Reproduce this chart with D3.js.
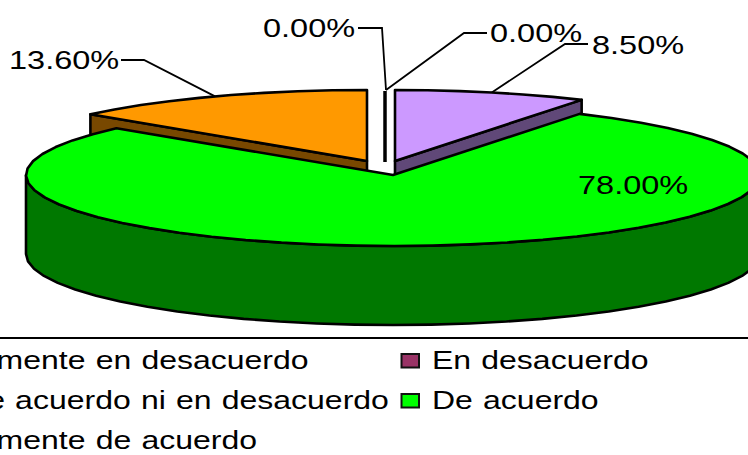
<!DOCTYPE html>
<html><head><meta charset="utf-8">
<script src="https://cdn.jsdelivr.net/npm/d3@7/dist/d3.min.js"></script>
<style>html,body{margin:0;padding:0;background:#fff;overflow:hidden}svg{display:block}text{font-family:"Liberation Sans",Arial,sans-serif;font-size:25px;fill:#000}</style>
</head><body><svg id="chart" width="748" height="455"></svg>
<script>
// Survey answers, in legend order
const categories = ["Totalmente en desacuerdo","En desacuerdo","Ni de acuerdo ni en desacuerdo","De acuerdo","Totalmente de acuerdo"];
const percents = [0, 0, 8.5, 78, 13.6];
const colors = ["#9999FF","#993366","#CC99FF","#00FF00","#FF9900"];

const W = 748, H = 455;
const svg = d3.select("#chart");
const RX = 367, RY = 71, DEPTH = 79, STRETCH = 1.3, LEGEND_STRETCH = 1.28, STEP = Math.PI / 30;

// Each wedge is pulled off the shared axis by its own offset
const explode = [[-1,-13],[-1,-13],[9,-14],[7,0],[-19,-14]];
const axisX = 386, axisY = 175;

const pie = d3.pie().value(d => d).sort(null)(percents);
const sx = d3.scaleLinear().domain([-1,1]).range([-RX,RX]);
const sy = d3.scaleLinear().domain([-1,1]).range([-RY,RY]);

const apex = i => [axisX + explode[i][0], axisY + explode[i][1]];
const rim = (i, a, dz = 0) => {
  const [cx, cy] = apex(i);
  return [cx + sx(Math.sin(a)), cy + sy(-Math.cos(a)) + dz];
};
const angles = (a0, a1) => {
  const n = Math.max(1, Math.ceil((a1 - a0) / STEP));
  return d3.range(n + 1).map(k => a0 + (a1 - a0) * k / n);
};
const line = d3.line();
const shade = c => { const r = d3.rgb(c); return d3.rgb(r.r * .47, r.g * .47, r.b * .47).formatHex(); };
const outline = {stroke:"#000","stroke-width":2.6,"stroke-linejoin":"round"};
const paint = (path, fill) => {
  const p = svg.append("path").attr("d", path + "Z").attr("fill", fill);
  Object.entries(outline).forEach(([k,v]) => p.attr(k,v));
};

// Top face plus the cut wall facing the viewer
function wedge(i, cutAngle) {
  const d = pie[i], c = colors[i], A = apex(i);
  if (cutAngle !== undefined) {
    const T = rim(i, cutAngle);
    paint(line([A, T, [T[0],T[1]+DEPTH], [A[0],A[1]+DEPTH]]), shade(c));
  }
  paint(line([A, ...angles(d.startAngle, d.endAngle).map(a => rim(i,a))]), c);
}

// The two empty answers collapse to a single upright edge
function emptyWedge(i) {
  const top = rim(i, 0), A = apex(i);
  svg.append("line").attr("x1",A[0]).attr("y1",A[1]).attr("x2",top[0]).attr("y2",top[1]).attr("stroke","#000").attr("stroke-width",3);
}

wedge(4, pie[4].startAngle);
wedge(2, pie[2].endAngle);
emptyWedge(0); emptyWedge(1);

// Largest wedge sits in front: outer wall along the near half, then its top
const g = pie[3];
const a0 = Math.max(g.startAngle, Math.PI/2), a1 = Math.min(g.endAngle, 1.5*Math.PI);
const wallAngles = angles(a0, a1);
paint(line([...wallAngles.map(a => rim(3,a)), ...wallAngles.slice().reverse().map(a => rim(3,a,DEPTH))]), shade(colors[3]));
paint(line([apex(3), ...angles(g.startAngle, g.endAngle).map(a => rim(3,a))]), colors[3]);

// Data labels with elbow leaders that end on each wedge's outer edge
const fmt = v => v.toFixed(2) + "%";
const labelBoxes = [
  {x:263,y:37,elbow:[382,28],start:[358,28]},
  {x:490,y:42,elbow:[464,33],start:[487,33]},
  {x:592,y:54,elbow:[565,44],start:[588,44]},
  {x:578,y:194},
  {x:9,y:69,elbow:[144,60],start:[121,60]}
];
labelBoxes.forEach((b,i) => {
  const mid = (pie[i].startAngle + pie[i].endAngle) / 2;
  if (b.elbow) {
    let end = rim(i, mid);
    if (percents[i] === 0) end = [axisX, end[1]-1];
    svg.append("path").attr("d", line([b.start,b.elbow,end])).attr("fill","none").attr("stroke","#000").attr("stroke-width",1.8);
  }
  svg.append("text").attr("transform",`translate(${b.x},${b.y}) scale(${STRETCH},1)`).text(fmt(percents[i]));
});

// Legend: two columns separated from the plot by a rule
svg.append("line").attr("x1",0).attr("x2",W).attr("y1",338).attr("y2",338).attr("stroke","#000").attr("stroke-width",2);
const colX = [-71, 432], rowY = [369, 409, 449];
categories.forEach((name,i) => {
  const col = i % 2, row = Math.floor(i / 2);
  const x = colX[col], y = rowY[row];
  svg.append("rect").attr("x",x-30.5).attr("y",y-15).attr("width",17.5).attr("height",13.5)
    .attr("fill",colors[i]).attr("stroke","#111").attr("stroke-width",2);
  svg.append("text").attr("transform",`translate(${x},${y}) scale(${LEGEND_STRETCH},1)`).attr("word-spacing",1).text(name);
});
</script></body></html>
